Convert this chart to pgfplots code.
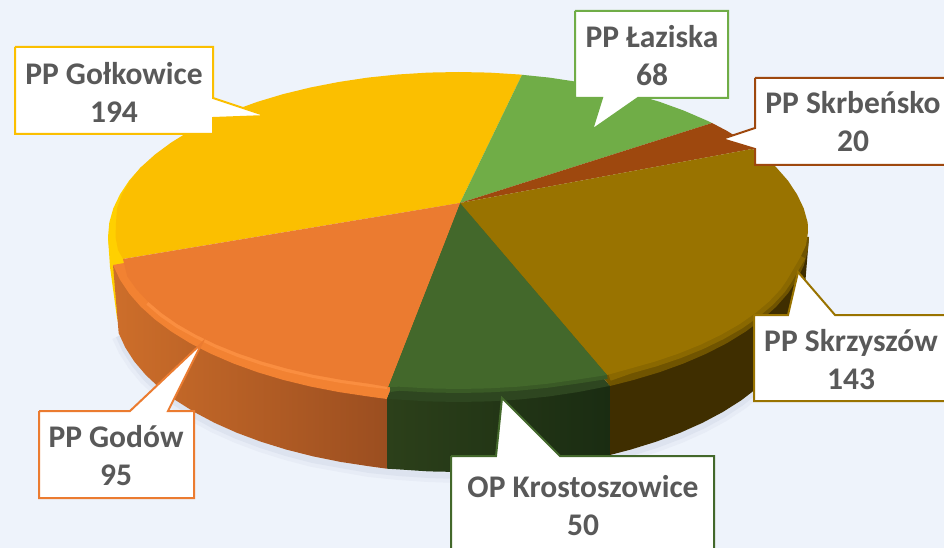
\documentclass[border=0pt]{standalone}
\usepackage{fontspec}
\setmainfont{Carlito}
\usepackage{pgfplots}
\pgfplotsset{compat=1.18}
\usepackage{pgfplotstable}
\definecolor{gol}{HTML}{FBBF00}
\definecolor{gollight}{HTML}{FFD000}
\definecolor{laz}{HTML}{70AD47}
\definecolor{skr}{HTML}{9E480E}
\definecolor{sks}{HTML}{997300}
\definecolor{sksrim}{HTML}{705400}
\definecolor{sksmid}{HTML}{8A6800}
\definecolor{sksside}{HTML}{3F2E00}
\definecolor{kro}{HTML}{43682B}
\definecolor{krorim}{HTML}{2E4620}
\definecolor{kromid}{HTML}{3A5A26}
\definecolor{god}{HTML}{EB7B30}
\definecolor{godrim}{HTML}{F28232}
\definecolor{godhi}{HTML}{FA8E40}
\definecolor{txt}{HTML}{595959}
\tikzset{lab/.style={align=center,text=txt,font=\fontsize{31.5}{38}\selectfont\bfseries}}
\pgfplotstableread{
x y
118.7 336
125.3 350
134.3 364
145.8 378
159.7 391
175.9 403
194.2 415
214.5 426
236.7 436
260.6 445
286 453
312.7 460
340.5 465
369.2 470
398.6 473
428.4 475
458.5 476
488.6 475
518.4 473
547.8 470
576.5 465
604.3 460
631 453
656.4 445
680.3 436
702.5 426
722.8 415
741.1 403
757.3 390
771.2 377
}\shadowring
\begin{document}
\begin{tikzpicture}
\begin{axis}[
    hide axis,
    scale only axis,
    width=944pt, height=548pt,
    xmin=0, xmax=944, ymin=0, ymax=548,
    y dir=reverse,
]
% background and soft shadow
\addplot[fill={rgb,255:red,238;green,243;blue,251},draw=none] coordinates {(0,0) (944,0) (944,548) (0,548)};
\addplot[draw={rgb,255:red,231;green,236;blue,246},line width=14pt] table {\shadowring};
\addplot[draw={rgb,255:red,221;green,227;blue,239},line width=6pt] table {\shadowring};
% sides
\addplot[fill=gollight,draw=none] coordinates {(108,237) (110,267) (117,318) (119,325) (122,300) (125,260)};
\addplot[left color={rgb,255:red,205;green,110;blue,42},right color={rgb,255:red,155;green,78;blue,32},draw=none] coordinates {(113,265) (118.7,333.2) (125.3,347.5) (134.3,361.5) (145.8,375) (159.7,388) (175.9,400.4) (194.2,412) (214.5,422.8) (236.7,432.7) (260.6,441.6) (286,449.5) (312.7,456.3) (340.5,461.9) (369.2,466.3) (387,468.7) (387,395)};
\addplot[left color={rgb,255:red,44;green,64;blue,26},right color={rgb,255:red,26;green,44;blue,18},draw=none] coordinates {(387,395) (387,468.7) (398.6,469.4) (428.4,471.4) (458.5,472) (488.6,471.4) (518.4,469.4) (547.8,466.3) (576.5,461.9) (604.3,456.3) (610,455) (610,385)};
\addplot[fill=sksside,draw=none] coordinates {(610,385) (610,455) (631,449.5) (656.4,441.6) (680.3,432.7) (702.5,422.8) (722.8,412) (741.1,400.4) (757.3,388) (771.2,375) (782.7,361.5) (791.7,347.5) (798.3,333.2) (802.2,318.6) (803.5,304) (809,237)};
% bevel
\addplot[fill=gollight,draw=none] coordinates {(200,200) (140.8,167.3) (129.1,180.6) (120,194.3) (113.3,208.3) (109.3,222.6) (108,237) (109.3,251.4) (113,265) (123,259)};
\addplot[fill=godrim,draw=none] coordinates {(460,203) (113,265) (120,279.7) (129.1,293.4) (140.8,306.7) (155,319.5) (171.4,331.6) (190,343.1) (210.7,353.7) (233.2,363.4) (257.5,372.2) (283.2,379.9) (310.4,386.5) (338.6,392) (367.8,396.4) (387,399)};
\addplot[fill=krorim,draw=none] coordinates {(460,203) (387,399) (397.6,399.5) (428,401.4) (458.5,402) (489,401.4) (519.4,399.5) (549.2,396.4) (578.4,392) (606.6,386.5) (610,386)};
\addplot[fill=sksrim,draw=none] coordinates {(460,203) (610,386) (633.8,379.9) (659.5,372.2) (683.8,363.4) (706.3,353.7) (727,343.1) (745.6,331.6) (762,319.5) (776.2,306.7) (787.9,293.4) (797,279.7) (803.7,265.7) (807.7,251.4) (809,237)};
% soft transition between top and bevel
\addplot[draw=godhi,line width=4pt] coordinates {(147.6,303) (161.5,315) (177.5,326) (195.8,336) (216,346) (238,355) (261.8,363) (287,370) (313.5,376) (341.2,381) (369.7,385) (387,387)};
\addplot[draw=kromid,line width=8pt] coordinates {(390,388) (399,386.7) (428.6,388.4) (458.5,389) (488.4,388.4) (518,386.7) (547.3,383.8) (575.8,379.8) (607,375)};
\addplot[draw=sksmid,line width=10pt] coordinates {(609,376) (630,368.6) (655.2,361.5) (679,353.4) (701,344.5) (721.2,334.7) (739.5,324.2) (755.5,313) (769.4,301.2) (780.8,289) (787,280) (794,268) (801,256)};
% top of the pie
\addplot[fill=gol,draw=none] coordinates {(460,203) (123,259) (118,250) (115.5,237) (116,222.6) (117,208.3) (122,194.3) (130,180.6) (140.8,167.3) (155,154.5) (171.4,142.4) (190,130.9) (210.7,120.3) (233.2,110.6) (257.5,101.8) (283.2,94.1) (310.4,87.5) (338.6,82) (367.8,77.6) (397.6,74.5) (428,72.6) (458.5,72) (489,72.6) (519.4,74.5) (522,74.8)};
\addplot[fill=laz,draw=none] coordinates {(460,203) (522,74.8) (549.2,77.6) (578.4,82) (606.6,87.5) (633.8,94.1) (659.5,101.8) (683.8,110.6) (706.3,120.3) (712,123)};
\addplot[fill=skr,draw=none] coordinates {(460,203) (712,123) (727,130.9) (745.6,142.4) (752,149)};
\addplot[fill=sks,draw=none] coordinates {(460,203) (752,149) (762,154.5) (776.2,167.3) (787.9,180.6) (797,194.3) (803.7,208.3) (807.7,222.6) (808,232) (806,245) (801,256) (794,268) (787,280) (780.8,289) (769.4,301.2) (755.5,313) (739.5,324.2) (721.2,334.7) (701,344.5) (679,353.4) (655.2,361.5) (630,368.6) (607,375)};
\addplot[fill=kro,draw=none] coordinates {(460,203) (607,375) (575.8,379.8) (547.3,383.8) (518,386.7) (488.4,388.4) (458.5,389) (428.6,388.4) (399,386.7) (388,387)};
\addplot[fill=god,draw=none] coordinates {(460,203) (388,387) (369.7,383.8) (341.2,379.8) (313.5,374.8) (287,368.6) (261.8,361.5) (238,353.4) (216,344.5) (195.8,334.7) (177.5,324.2) (161.5,313) (147.6,301.2) (136.2,289) (127.2,276.3) (123,259)};
% callouts
\addplot[fill=white,draw=gol,line width=2pt] coordinates {(15,47) (213,47) (213,98) (267,116) (213,118) (213,134) (15,134) (15,47)};
\addplot[fill=white,draw=laz,line width=2pt] coordinates {(575,11) (728,11) (728,98) (638,98) (592,130) (602,98) (575,98) (575,11)};
\addplot[fill=white,draw=skr,line width=2pt] coordinates {(755,78) (950,78) (950,165) (755,165) (755,149) (722,139) (755,128) (755,78)};
\addplot[fill=white,draw=sks,line width=2pt] coordinates {(754,315) (788,315) (798,272) (835,315) (950,315) (950,401) (754,401) (754,315)};
\addplot[fill=white,draw=kro,line width=2pt] coordinates {(451,456) (496,456) (502,398) (560,456) (714,456) (714,560) (451,560) (451,456)};
\addplot[fill=white,draw=god,line width=2pt] coordinates {(39,411) (130,411) (202,343) (168,411) (194,411) (194,498) (39,498) (39,411)};
\node[lab] at (axis cs:114,92) {PP Gołkowice\\194};
\node[lab] at (axis cs:652,56) {PP Łaziska\\68};
\node[lab] at (axis cs:853,122) {PP Skrbeńsko\\20};
\node[lab] at (axis cs:851,360) {PP Skrzyszów\\143};
\node[lab] at (axis cs:583,506) {OP Krostoszowice\\50};
\node[lab] at (axis cs:116,456) {PP Godów\\95};
\end{axis}
\end{tikzpicture}
\end{document}
